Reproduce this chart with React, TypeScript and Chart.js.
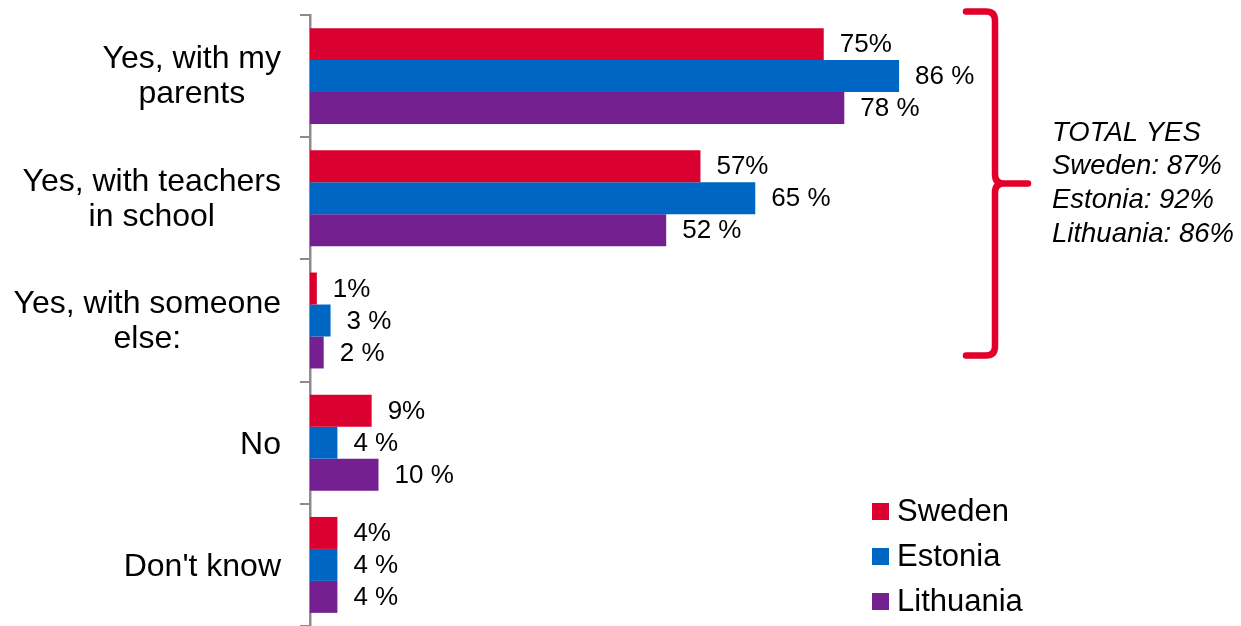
import React, { useEffect, useRef } from "react";
import { Chart, registerables } from "chart.js";

Chart.register(...registerables);

const categories: string[][] = [
  ["Yes, with my", "parents"],
  ["Yes, with teachers", "in school"],
  ["Yes, with someone", "else:"],
  ["No"],
  ["Don't know"],
];
const seriesNames = ["Sweden", "Estonia", "Lithuania"];
const swedenValues = [75, 57, 1, 9, 4];
const estoniaValues = [86, 65, 3, 4, 4];
const lithuaniaValues = [78, 52, 2, 10, 4];
const labelSuffixes = ["%", " %", " %"];
const seriesColors = ["#DA0030", "#0066C3", "#742090"];
const totalYesLines = ["TOTAL YES", "Sweden: 87%", "Estonia: 92%", "Lithuania: 86%"];

const FONT = "'Liberation Sans', Arial, sans-serif";

const overlayPlugin = {
  id: "overlay",
  afterDraw(chart: any) {
    const ctx = chart.ctx as CanvasRenderingContext2D;
    const yScale = chart.scales.y;
    const xScale = chart.scales.x;
    ctx.save();

    // category labels: block right-aligned, lines centered
    ctx.font = `32px ${FONT}`;
    ctx.fillStyle = "#000";
    ctx.textBaseline = "middle";
    ctx.textAlign = "center";
    const lh = 35;
    categories.forEach((lines, i) => {
      const cy = yScale.getPixelForValue(i);
      const maxW = Math.max(...lines.map((l) => ctx.measureText(l).width));
      const cx = 281 - maxW / 2;
      const n = lines.length;
      lines.forEach((l, k) => {
        const y = cy + (k - (n - 1) / 2) * lh + (n > 1 ? 1 : 2);
        ctx.fillText(l, cx, y);
      });
    });

    // data labels
    ctx.font = `26px ${FONT}`;
    ctx.textAlign = "left";
    chart.data.datasets.forEach((ds: any, di: number) => {
      const meta = chart.getDatasetMeta(di);
      meta.data.forEach((bar: any, i: number) => {
        ctx.fillText(`${ds.data[i]}${labelSuffixes[di]}`, bar.x + 16, bar.y + 1);
      });
    });

    // brace
    const bx = xScale.getPixelForValue(100);
    const top = chart.chartArea.top - 3.5;
    const bottom = yScale.getPixelForValue(2) + 35;
    const mid = (top + bottom) / 2;
    const r = 9;
    ctx.strokeStyle = "#E2002B";
    ctx.lineWidth = 6.5;
    ctx.lineCap = "round";
    ctx.lineJoin = "round";
    ctx.beginPath();
    ctx.moveTo(bx - 29, top);
    ctx.lineTo(bx - r, top);
    ctx.quadraticCurveTo(bx, top, bx, top + r);
    ctx.lineTo(bx, mid - r);
    ctx.quadraticCurveTo(bx, mid, bx + r, mid);
    ctx.lineTo(bx + 33, mid);
    ctx.moveTo(bx + r, mid);
    ctx.quadraticCurveTo(bx, mid, bx, mid + r);
    ctx.lineTo(bx, bottom - r);
    ctx.quadraticCurveTo(bx, bottom, bx - r, bottom);
    ctx.lineTo(bx - 29, bottom);
    ctx.stroke();

    // total yes text
    ctx.font = `italic 27.5px ${FONT}`;
    ctx.fillStyle = "#000";
    ctx.textAlign = "left";
    totalYesLines.forEach((t, k) => {
      ctx.fillText(t, 1052, 133 + k * 33.8);
    });

    // legend
    ctx.font = `31px ${FONT}`;
    seriesNames.forEach((name, k) => {
      const y = 511.5 + k * 45;
      ctx.fillStyle = seriesColors[k];
      ctx.fillRect(872, y - 8.5, 17, 17);
      ctx.fillStyle = "#000";
      ctx.fillText(name, 897, y + 1);
    });

    ctx.restore();
  },
};

export default function App() {
  const canvasRef = useRef<HTMLCanvasElement | null>(null);

  useEffect(() => {
    if (!canvasRef.current) return;
    const chart = new Chart(canvasRef.current, {
      type: "bar",
      data: {
        labels: categories.map((c) => c.join(" ")),
        datasets: [swedenValues, estoniaValues, lithuaniaValues].map((vals, i) => ({
          label: seriesNames[i],
          data: vals,
          backgroundColor: seriesColors[i],
          borderWidth: 0,
          categoryPercentage: 0.785,
          barPercentage: 1.0,
        })),
      },
      options: {
        indexAxis: "y",
        animation: false,
        responsive: true,
        maintainAspectRatio: false,
        layout: { padding: { left: 0, top: 15, right: 246, bottom: 0 } },
        plugins: {
          legend: { display: false },
          tooltip: { enabled: false },
        },
        scales: {
          x: {
            display: false,
            min: 0,
            max: 100,
          },
          y: {
            afterFit: (scale: any) => {
              scale.width = 310;
            },
            ticks: { display: false },
            grid: {
              display: true,
              drawOnChartArea: false,
              drawTicks: true,
              tickLength: 10,
              color: "#8C8C8C",
              lineWidth: 2,
            },
            border: { display: true, color: "#8C8C8C", width: 2.5 },
          },
        },
      },
      plugins: [overlayPlugin],
    });
    return () => chart.destroy();
  }, []);

  return (
    <div style={{ position: "fixed", left: 0, top: 0, width: 1241, height: 626, background: "#fff" }}>
      <canvas ref={canvasRef} />
    </div>
  );
}
